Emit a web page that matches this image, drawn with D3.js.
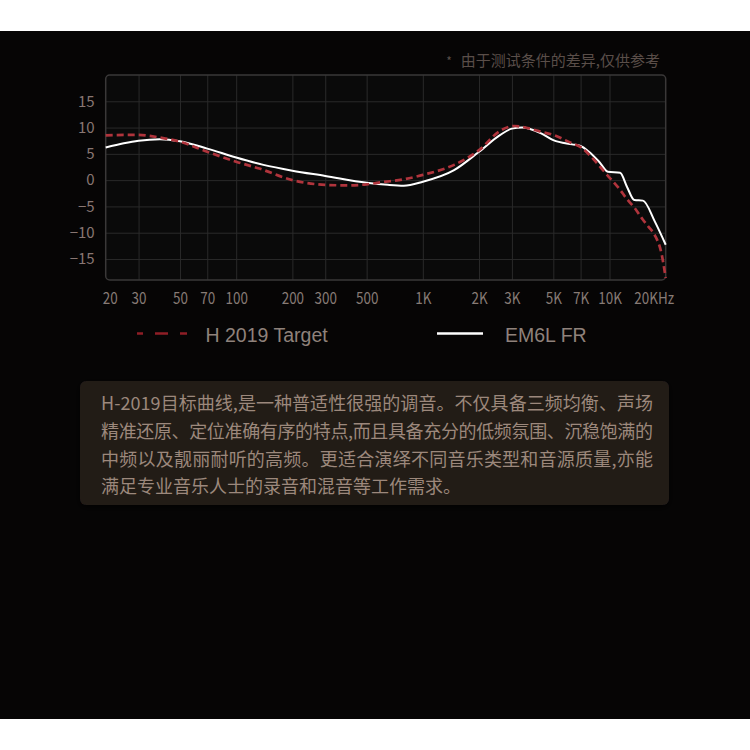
<!DOCTYPE html>
<html>
<head>
<meta charset="utf-8">
<script src="https://cdn.jsdelivr.net/npm/d3@7"></script>
<style>
  html, body { margin: 0; padding: 0; background: #fff; }
  svg { display: block; }
</style>
</head>
<body>
<div id="chart"></div>
<script>
// H 2019 target curve (Hz / dB)
const targetFreq = [20, 25, 30, 39, 50, 70, 100, 133, 200, 300, 400, 500, 600, 790, 1000, 1470, 2000, 2600, 3100, 4300, 5000, 6300, 7000, 8000, 9700, 11200, 12400, 13700, 15000, 16200, 17500, 19000, 20000];
const targetDb   = [8.5, 8.6, 8.6, 8.1, 7.3, 5.4, 3.5, 2.2, 0.0, -0.9, -1.0, -0.8, -0.4, 0.15, 1.0, 2.9, 5.7, 9.4, 10.3, 9.2, 8.6, 7.0, 6.3, 4.4, 1.0, -1.5, -3.6, -5.4, -7.4, -8.9, -10.5, -14.0, -18.6];

// EM6L measured response (Hz / dB)
const frFreq = [20, 25, 30, 39, 50, 70, 100, 140, 200, 300, 500, 650, 790, 1000, 1470, 2000, 2600, 3000, 3400, 4300, 5000, 6300, 7000, 7700, 8800, 9800, 11400, 12400, 13600, 15100, 17500, 20000];
const frDb   = [6.2, 7.0, 7.5, 7.8, 7.4, 6.0, 4.3, 2.9, 1.8, 0.8, -0.5, -0.9, -1.05, -0.3, 1.9, 5.4, 8.6, 9.8, 10.0, 8.9, 7.6, 6.8, 6.5, 5.5, 3.5, 1.6, 1.4, -1.25, -3.8, -3.9, -7.9, -12.3];

const xTicks = [20, 30, 50, 70, 100, 200, 300, 500, 1000, 2000, 3000, 5000, 7000, 10000, 20000];
const xTickLabels = ["20", "30", "50", "70", "100", "200", "300", "500", "1K", "2K", "3K", "5K", "7K", "10K", "20KHz"];
const gridFreq = [30, 50, 70, 100, 200, 300, 500, 1000, 2000, 3000, 5000, 7000, 10000];
const yTicks = [15, 10, 5, 0, -5, -10, -15];

const legendLabels = ["H 2019 Target", "EM6L FR"];
const noteText = "由于测试条件的差异,仅供参考";
const paragraph = [
  "H-2019目标曲线,是一种普适性很强的调音。不仅具备三频均衡、声场",
  "精准还原、定位准确有序的特点,而且具备充分的低频氛围、沉稳饱满的",
  "中频以及靓丽耐听的高频。更适合演绎不同音乐类型和音源质量,亦能",
  "满足专业音乐人士的录音和混音等工作需求。"
];

const W = 750, H = 750;
const margin = {top: 75, left: 105.7};
const width = 560, height = 205;

const svg = d3.select("#chart")
  .append("svg")
    .attr("width", W)
    .attr("height", H);

// dark page panel
svg.append("rect")
  .attr("x", 0).attr("y", 31)
  .attr("width", W).attr("height", 688)
  .attr("fill", "#060505");

const g = svg.append("g")
  .attr("transform", "translate(" + margin.left + "," + margin.top + ")");

let x = d3.scaleLog()
  .domain([20, 20000])
  .range([0, width]);

let y = d3.scaleLinear()
  .domain([-19, 20])
  .range([height, 0]);

// plot background
g.append("rect")
  .attr("width", width).attr("height", height)
  .attr("rx", 4)
  .attr("fill", "#0a0a0a");

// grid
g.append("g")
  .attr("class", "grid")
  .attr("transform", "translate(0," + height + ")")
  .call(d3.axisBottom(x).tickValues(gridFreq).tickSize(-height).tickFormat(""))
  .call(s => s.select(".domain").remove());

g.append("g")
  .attr("class", "grid")
  .call(d3.axisLeft(y).tickValues(yTicks).tickSize(-width).tickFormat(""))
  .call(s => s.select(".domain").remove());

g.selectAll(".grid line")
  .attr("stroke", "#2a2a2a")
  .attr("stroke-width", 1);

// frame
g.append("rect")
  .attr("width", width).attr("height", height)
  .attr("rx", 4)
  .attr("fill", "none")
  .attr("stroke", "#3a3838")
  .attr("stroke-width", 1.5);

// Y labels
g.append("g")
  .call(d3.axisLeft(y).tickValues(yTicks).tickSize(0).tickPadding(11))
  .call(s => s.select(".domain").remove())
  .selectAll("text")
    .attr("fill", "#887672")
    .style("font-family", "'Noto Sans CJK SC', 'Liberation Sans', sans-serif")
    .style("font-size", "15px");

// X labels
let xAxis = g.append("g")
  .attr("transform", "translate(0," + height + ")")
  .call(d3.axisBottom(x).tickValues(xTicks).tickSize(0)
        .tickFormat((d, i) => xTickLabels[i]))
  .call(s => s.select(".domain").remove());

xAxis.selectAll("text")
  .attr("y", 24)
  .attr("dy", null)
  .attr("dx", (d, i) => i === 0 ? 4 : (i === xTicks.length - 1 ? -12 : 0))
  .attr("fill", "#877b75")
  .style("font-family", "'Noto Sans CJK SC', 'Liberation Sans', sans-serif")
  .style("font-size", "16px")
  .each(function() {
    // the labels are set in a condensed face
    let w = this.getComputedTextLength();
    d3.select(this).attr("textLength", w * 0.84).attr("lengthAdjust", "spacingAndGlyphs");
  });

// curves
let line = d3.line()
  .x(d => x(d[0]))
  .y(d => y(d[1]))
  .curve(d3.curveMonotoneX);

let targetData = targetFreq.map((f, i) => [f, targetDb[i]]);
let frData = frFreq.map((f, i) => [f, frDb[i]]);

g.append("path")
  .datum(frData)
  .attr("d", line)
  .attr("fill", "none")
  .attr("stroke", "#ffffff")
  .attr("stroke-width", 2);

g.append("path")
  .datum(targetData)
  .attr("d", line)
  .attr("fill", "none")
  .attr("stroke", "#b0343c")
  .attr("stroke-width", 2.7)
  .attr("stroke-dasharray", "7,4");

// note
let note = svg.append("text")
  .attr("x", 660).attr("y", 66)
  .attr("text-anchor", "end")
  .attr("fill", "#5a4e49")
  .style("font-family", "'Noto Sans CJK SC', sans-serif")
  .style("font-size", "15px");
note.append("tspan").text("*").style("font-size", "12px");
note.append("tspan").attr("dx", 9).text(noteText);

// legend
let legend = svg.append("g");
legend.append("line")
  .attr("x1", 137).attr("x2", 187)
  .attr("y1", 333.5).attr("y2", 333.5)
  .attr("stroke", "#8e1e26")
  .attr("stroke-width", 2.5)
  .attr("stroke-dasharray", "13,12")
  .attr("stroke-dashoffset", 7);
legend.append("text")
  .attr("x", 205.5).attr("y", 341.5)
  .attr("fill", "#8f827b")
  .style("font-family", "'Liberation Sans', Arial, sans-serif")
  .style("font-size", "19.5px")
  .text(legendLabels[0]);
legend.append("line")
  .attr("x1", 437).attr("x2", 483)
  .attr("y1", 333.5).attr("y2", 333.5)
  .attr("stroke", "#ffffff")
  .attr("stroke-width", 2.5);
legend.append("text")
  .attr("x", 505).attr("y", 341.5)
  .attr("fill", "#8f827b")
  .style("font-family", "'Liberation Sans', Arial, sans-serif")
  .style("font-size", "19.5px")
  .text(legendLabels[1]);

// description box
let defs = svg.append("defs");
let shadow = defs.append("filter").attr("id", "shadow")
  .attr("x", "-5%").attr("y", "-10%").attr("width", "110%").attr("height", "130%");
shadow.append("feDropShadow")
  .attr("dx", 0).attr("dy", 2).attr("stdDeviation", 3)
  .attr("flood-color", "#000").attr("flood-opacity", 0.8);

svg.append("rect")
  .attr("x", 80).attr("y", 381)
  .attr("width", 589).attr("height", 124)
  .attr("rx", 6)
  .attr("fill", "#211b18")
  .attr("filter", "url(#shadow)");

svg.append("g")
  .selectAll("text")
  .data(paragraph)
  .enter()
  .append("text")
    .attr("x", 101)
    .attr("y", (d, i) => 410 + i * 27.8)
    .attr("fill", "#9c887c")
    .style("font-family", "'Noto Sans CJK SC', sans-serif")
    .style("font-size", "18px")
    .attr("textLength", (d, i) => i < paragraph.length - 1 ? 552 : null)
    .attr("lengthAdjust", "spacing")
    .text(d => d);
</script>
</body>
</html>
